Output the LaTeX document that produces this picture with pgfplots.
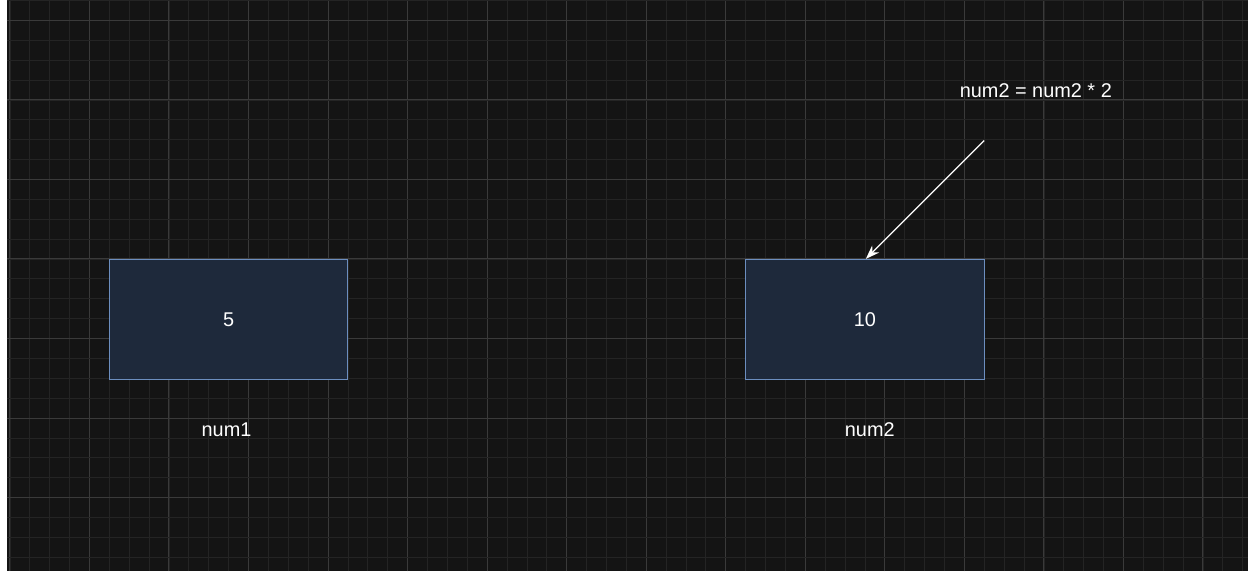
\documentclass[border=0pt]{standalone}
\usepackage{pgfplots}
\pgfplotsset{compat=1.18}
\usetikzlibrary{arrows.meta}
\usepackage{fontspec}
\setmainfont{Liberation Sans}
\definecolor{bg}{HTML}{141414}
\definecolor{majg}{HTML}{3A3A3A}
\definecolor{ming}{HTML}{242424}
\definecolor{boxf}{HTML}{1E293B}
\definecolor{boxd}{HTML}{6C8EBF}
\begin{document}
\begin{tikzpicture}
\begin{axis}[
  scale only axis, width=1248pt, height=574pt,
  xmin=0, xmax=1248, ymin=0, ymax=574,
  axis background/.style={fill=bg},
  axis line style={draw=none},
  xtick={3,83,...,1203}, ytick={74,154,...,554},
  minor xtick={3,23,...,1243}, minor ytick={14,34,...,574},
  xticklabels={}, yticklabels={},
  major tick length=0pt, minor tick length=0pt,
  grid=both,
  major grid style={majg, line width=0.8pt},
  minor grid style={ming, line width=0.6pt},
  clip=false,
]
\addplot[fill=boxf, draw=boxd, line width=1.2pt] coordinates {(103,313) (343,313) (343,193) (103,193)} --cycle;
\addplot[fill=boxf, draw=boxd, line width=1.2pt] coordinates {(743,313) (983,313) (983,193) (743,193)} --cycle;
\addplot[white, line width=1.3pt, -{Stealth[length=14pt,width=10pt]}] coordinates {(983,433) (864,314)};
\node[white, font=\fontsize{20}{24}\selectfont] at (axis cs:223,253) {5};
\node[white, font=\fontsize{20}{24}\selectfont] at (axis cs:863,253) {10};
\node[white, font=\fontsize{20}{24}\selectfont] at (axis cs:221,142) {num1};
\node[white, font=\fontsize{20}{24}\selectfont] at (axis cs:868,142) {num2};
\node[white, font=\fontsize{20}{24}\selectfont] at (axis cs:1035,483) {num2 = num2 * 2};
\end{axis}
\end{tikzpicture}
\end{document}
